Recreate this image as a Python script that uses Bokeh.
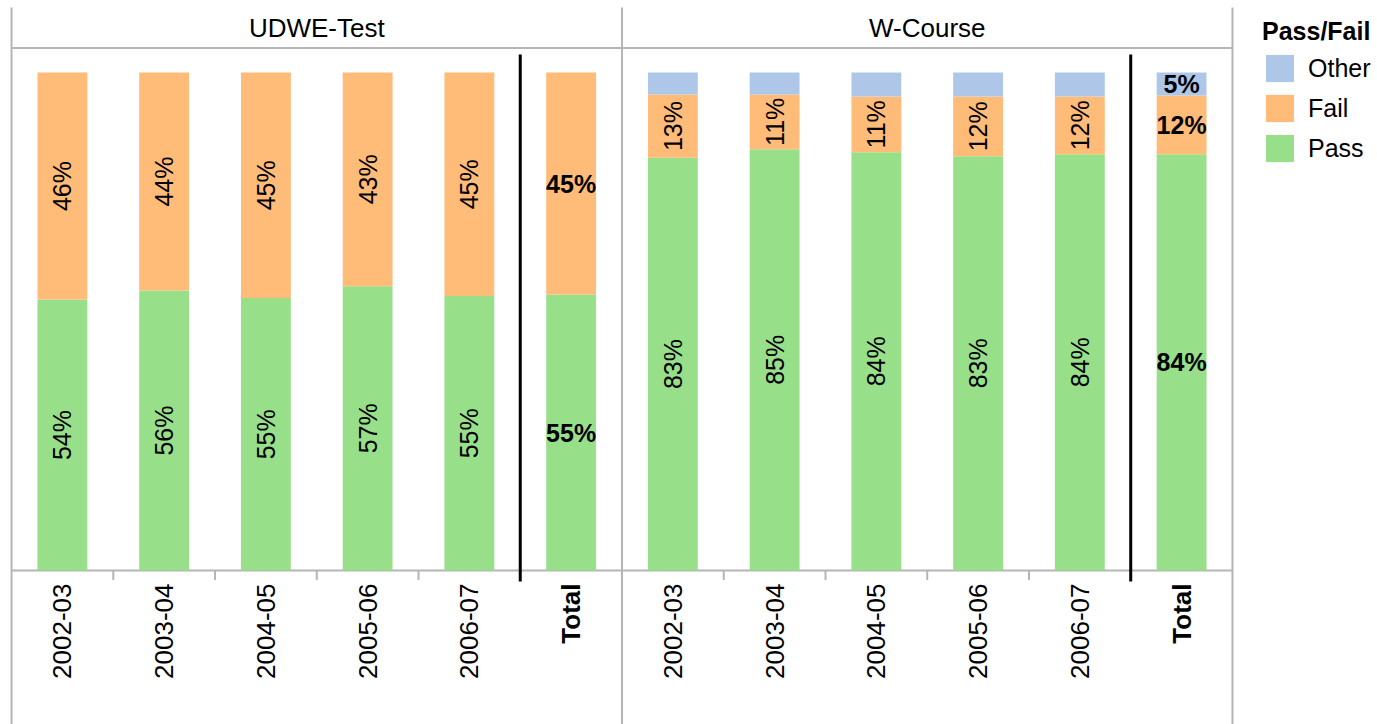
from bokeh.plotting import figure
from bokeh.layouts import row
from bokeh.models import FactorRange, Range1d, ColumnDataSource, Legend, LegendItem
from bokeh.embed import file_html
from bokeh.resources import INLINE
from bokeh.core.properties import value

# ---------------- data ----------------
panels = ["UDWE-Test", "W-Course"]
periods = ["2002-03", "2003-04", "2004-05", "2005-06", "2006-07", "Total"]
series = ["Pass", "Fail", "Other"]

udwe_pass = [54.4, 56.2, 54.7, 57.1, 55.1, 55.4]
udwe_fail = [45.6, 43.8, 45.3, 42.9, 44.9, 44.6]
udwe_other = [0, 0, 0, 0, 0, 0]

wc_pass = [82.9, 84.6, 84.0, 83.2, 83.6, 83.6]
wc_fail = [12.7, 11.0, 11.2, 12.0, 11.6, 11.8]
wc_other = [4.4, 4.4, 4.8, 4.8, 4.8, 4.6]

legend_title = "Pass/Fail"
total_label = "Total"

# ---------------- styling ----------------
FONT = "Liberation Sans"
COLORS = {"Pass": "#98df8a", "Fail": "#ffbb78", "Other": "#aec7e8"}
GRID_GRAY = "#b5b5b5"
FRAME_W = 1225
FRAME_H = 717
BORDER_L = 9
BORDER_T = 7
LEGEND_W = 143

data_by_panel = {
    "UDWE-Test": {"Pass": udwe_pass, "Fail": udwe_fail, "Other": udwe_other},
    "W-Course": {"Pass": wc_pass, "Fail": wc_fail, "Other": wc_other},
}

factors = [(pn, pr) for pn in panels for pr in periods]
cols = {"x": factors}
for s in series:
    cols[s] = [data_by_panel[pn][s][i] for pn in panels for i in range(len(periods))]
src = ColumnDataSource(cols)


def make_x_range():
    return FactorRange(*factors, factor_padding=0, group_padding=0,
                       range_padding=0.02, range_padding_units="absolute")


Y_START, Y_END = -30.92, 113.05

p = figure(x_range=make_x_range(), y_range=Range1d(Y_START, Y_END),
           width=BORDER_L + FRAME_W, height=BORDER_T + FRAME_H,
           x_axis_type=None, y_axis_type=None, output_backend="svg",
           toolbar_location=None, min_border_left=BORDER_L, min_border_right=0,
           min_border_top=BORDER_T, min_border_bottom=0)
p.outline_line_color = None
p.background_fill_color = "white"

# ---------------- frame lines ----------------
n = len(periods)
edges = [i * n for i in range(len(panels) + 1)]
p.segment(x0=edges, y0=[-40] * len(edges), x1=edges, y1=[120] * len(edges),
          line_color=GRID_GRAY, line_width=2)
p.segment(x0=[edges[0]], y0=[104.9], x1=[edges[-1]], y1=[104.9],
          line_color=GRID_GRAY, line_width=2)
p.segment(x0=[edges[0]], y0=[0], x1=[edges[-1]], y1=[0],
          line_color=GRID_GRAY, line_width=2)
ticks = [e + k for e in edges[:-1] for k in range(1, n - 1)]
p.segment(x0=ticks, y0=[0] * len(ticks), x1=ticks, y1=[-1.9] * len(ticks),
          line_color=GRID_GRAY, line_width=2)

# ---------------- bars ----------------
p.vbar_stack(series, x="x", width=0.49, source=src,
             color=[COLORS[s] for s in series], line_color=None)

# separators before Total
seps = [e + n - 1 for e in edges[:-1]]
p.segment(x0=seps, y0=[103.6] * len(seps), x1=seps, y1=[-2.2] * len(seps),
          line_color="black", line_width=3)

# ---------------- value labels ----------------
lab_v = dict(x=[], y=[], text=[])
lab_t = dict(x=[], y=[], text=[])
for pn in panels:
    d = data_by_panel[pn]
    for i, pr in enumerate(periods):
        base = 0.0
        is_total = pr == total_label
        for s in series:
            v = d[s][i]
            if v > 0 and (s != "Other" or is_total):
                tgt = lab_t if is_total else lab_v
                tgt["x"].append((pn, pr))
                tgt["y"].append(base + v / 2)
                tgt["text"].append(f"{v:.0f}%")
            base += v

p.text(x="x", y="y", text="text", source=ColumnDataSource(lab_v), angle=1.5707963,
       text_align="center", text_baseline="middle", text_font=value(FONT),
       text_font_size="25px", text_color="black")
p.text(x="x", y="y", text="text", source=ColumnDataSource(lab_t),
       text_align="center", text_baseline="middle", text_font=value(FONT),
       text_font_size="25px", text_font_style="bold", text_color="black")

# ---------------- category labels ----------------
cat_n = dict(x=[], text=[])
cat_b = dict(x=[], text=[])
for pn in panels:
    for pr in periods:
        tgt = cat_b if pr == total_label else cat_n
        tgt["x"].append((pn, pr))
        tgt["text"].append(pr)
cat_n["y"] = [-2.6] * len(cat_n["x"])
cat_b["y"] = [-2.6] * len(cat_b["x"])
p.text(x="x", y="y", text="text", source=ColumnDataSource(cat_n), angle=1.5707963,
       text_align="right", text_baseline="middle", text_font=value(FONT),
       text_font_size="26px", text_color="black")
p.text(x="x", y="y", text="text", source=ColumnDataSource(cat_b), angle=1.5707963,
       text_align="right", text_baseline="middle", text_font=value(FONT),
       text_font_size="26px", text_font_style="bold", text_color="black")

# ---------------- panel headers ----------------
hdr = ColumnDataSource(dict(x=panels, y=[109.0] * len(panels), text=panels))
p.text(x="x", y="y", text="text", source=hdr, text_align="center",
       text_baseline="middle", text_font=value(FONT), text_font_size="26px",
       text_color="black")

# ---------------- legend (own panel to the right) ----------------
lf = figure(width=LEGEND_W, height=BORDER_T + FRAME_H, x_range=make_x_range(),
            y_range=Range1d(Y_START, Y_END), x_axis_type=None,
            y_axis_type=None, output_backend="svg", toolbar_location=None,
            min_border_left=0, min_border_right=0, min_border_top=0,
            min_border_bottom=0)
lf.outline_line_color = None
lf_renderers = lf.vbar_stack(series, x="x", width=0.49, source=src,
                             color=[COLORS[s] for s in series], line_color=None)
for r in lf_renderers:
    r.visible = False  # only used to supply legend swatches
items = [LegendItem(label=s, renderers=[r]) for s, r in zip(series, lf_renderers)][::-1]
legend = Legend(items=items, title=legend_title, location=(25, 556),
                margin=0, padding=3, spacing=6, glyph_width=35, glyph_height=34,
                label_standoff=11, title_standoff=5,
                label_text_font=FONT, label_text_font_size="25px",
                label_text_color="black",
                title_text_font=FONT, title_text_font_size="25px",
                title_text_font_style="bold", title_text_color="black",
                inactive_fill_alpha=0,
                border_line_alpha=0, background_fill_alpha=0)
lf.add_layout(legend)

layout = row(p, lf, spacing=0)
open("out.html", "w").write(file_html(layout, INLINE))
